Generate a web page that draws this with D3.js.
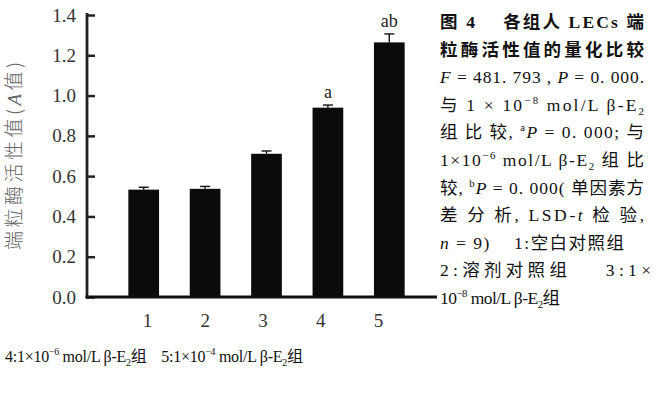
<!DOCTYPE html>
<html>
<head>
<meta charset="utf-8">
<script src="https://cdn.jsdelivr.net/npm/d3@7"></script>
<style>
  html, body { margin: 0; padding: 0; background: #fff; }
  svg { display: block; }
</style>
</head>
<body>
<svg id="chart" width="662" height="393"></svg>
<script>
// Telomerase activity (A value) of LECs in each group
const groups = ["1", "2", "3", "4", "5"];
const meanValues = [0.533, 0.537, 0.711, 0.940, 1.264];
const sdValues = [0.012, 0.012, 0.014, 0.013, 0.042];
const sigLabels = ["", "", "", "a", "ab"];
const yTicks = [0, 0.2, 0.4, 0.6, 0.8, 1.0, 1.2, 1.4];
const yTitle = [["端粒酶活性值(", ""], ["A", "i"], ["值)", ""]];

// Caption lines: each segment is [text, style] where style may be
// "b" bold, "i" italic, "sup" superscript, "sub" subscript
const captionLines = [
  { w: 204, segs: [["图 4", "b"], ["\u00a0\u00a0\u00a0\u00a0各组人 LECs 端", "b"]] },
  { w: 204, segs: [["粒酶活性值的量化比较", "b"]] },
  { w: 204, segs: [["F", "i"], [" = 481. 793 , ", ""], ["P", "i"], [" = 0. 000.", ""]] },
  { w: 204, segs: [["与 1 × 10", ""], ["−8", "sup"], ["  mol/L  β-E", ""], ["2", "sub"]] },
  { w: 204, segs: [["组 比 较, ", ""], ["a", "sup"], ["P", "i"], [" = 0. 000; 与", ""]] },
  { w: 204, segs: [["1×10", ""], ["−6", "sup"], [" mol/L  β-E", ""], ["2", "sub"], [" 组 比", ""]] },
  { w: 204, segs: [["较, ", ""], ["b", "sup"], ["P", "i"], [" = 0. 000( 单因素方", ""]] },
  { w: 204, segs: [["差 分 析, LSD-", ""], ["t", "i"], ["  检 验,", ""]] },
  { w: 184, segs: [["n", "i"], [" = 9)\u00a0\u00a0\u00a0 1:空白对照组", ""]] },
  { w: 211, segs: [["2:溶剂对照组\u00a0\u00a0\u00a0 3:1×", ""]] },
  { w: 120, segs: [["10", ""], ["−8", "sup"], [" mol/L β-E", ""], ["2", "sub"], ["组", ""]] }
];
const footLine = [["4:1×10", ""], ["−6", "sup"], [" mol/L β-E", ""], ["2", "sub"], ["组\u00a0\u00a0\u00a0 5:1×10", ""],
                  ["−4", "sup"], [" mol/L β-E", ""], ["2", "sub"], ["组", ""]];

const FONT = "'Liberation Serif', 'Times New Roman', 'Noto Sans CJK SC', serif";
const svg = d3.select("#chart");

// Scales
const x = d3.scaleBand().domain(groups).range([113, 420]).paddingInner(0.5).paddingOuter(0.25);
const xLabel = d3.scalePoint().domain(groups).range([147, 378]);
const y = d3.scaleLinear().domain([0, 1.4]).range([297, 15]);

// Bars
svg.append("g").selectAll("rect").data(groups).join("rect")
  .attr("x", d => x(d))
  .attr("width", x.bandwidth())
  .attr("y", (d, i) => y(meanValues[i]))
  .attr("height", (d, i) => y(0) - y(meanValues[i]))
  .attr("fill", "#0b0b0b");

// Error bars (upper half)
const eb = svg.append("g").attr("stroke", "#111").attr("stroke-width", 1.4);
groups.forEach((g, i) => {
  const cx = x(g) + x.bandwidth() / 2;
  eb.append("line").attr("x1", cx).attr("x2", cx)
    .attr("y1", y(meanValues[i])).attr("y2", y(meanValues[i] + sdValues[i]));
  eb.append("line").attr("x1", cx - 5).attr("x2", cx + 5)
    .attr("y1", y(meanValues[i] + sdValues[i])).attr("y2", y(meanValues[i] + sdValues[i]));
});

// Significance letters
svg.append("g").selectAll("text").data(groups).join("text")
  .attr("x", d => x(d) + x.bandwidth() / 2)
  .attr("y", (d, i) => y(meanValues[i] + sdValues[i]) - 7)
  .attr("text-anchor", "middle")
  .attr("font-family", FONT).attr("font-size", 18).attr("fill", "#222")
  .text((d, i) => sigLabels[i]);

// Y axis: inward ticks
const yAxis = d3.axisLeft(y).tickValues(yTicks).tickSize(-8).tickPadding(11)
  .tickFormat(d3.format(".1f"));
const yg = svg.append("g").attr("transform", "translate(87,0)").call(yAxis);
yg.select(".domain").remove();
yg.selectAll(".tick line").attr("stroke", "#222").attr("stroke-width", 2.5);
yg.selectAll(".tick text").attr("font-family", FONT).attr("font-size", 19).attr("fill", "#333");
svg.append("line").attr("x1", 87).attr("x2", 87).attr("y1", 13).attr("y2", y(0) + 1.5)
  .attr("stroke", "#222").attr("stroke-width", 2.8);
svg.append("line").attr("x1", 85.6).attr("x2", 437).attr("y1", y(0)).attr("y2", y(0))
  .attr("stroke", "#111").attr("stroke-width", 3);

// X axis labels
const xAxis = d3.axisBottom(xLabel).tickSize(0).tickPadding(17);
const xg = svg.append("g").attr("transform", `translate(0,${y(0)})`).call(xAxis);
xg.select(".domain").remove();
xg.selectAll(".tick text").attr("font-family", FONT).attr("font-size", 19).attr("fill", "#333");

// Y title
const yt = svg.append("text")
  .attr("transform", "translate(21,156) rotate(-90)")
  .attr("text-anchor", "middle")
  .attr("font-family", "'Noto Sans CJK SC', sans-serif").attr("font-size", 19)
  .attr("font-weight", 300).attr("fill", "#666")
  .attr("textLength", 188).attr("lengthAdjust", "spacing");
yTitle.forEach(([t, st]) => {
  const s = yt.append("tspan").text(t);
  if (st === "i") s.attr("font-style", "italic").attr("font-family", FONT);
});

// Caption text helper
function drawLine(parent, segs, x0, yb, width, size) {
  const t = parent.append("text").attr("x", x0).attr("y", yb)
    .attr("font-family", FONT).attr("font-size", size).attr("fill", "#111");
  let shift = 0;
  segs.forEach(([txt, st]) => {
    const s = t.append("tspan").text(txt);
    if (st === "b") s.attr("font-weight", "bold").attr("font-family", "'Liberation Serif', 'Noto Sans CJK SC', serif");
    if (st === "i") s.attr("font-style", "italic");
    if (st === "sup" || st === "sub") {
      const d = st === "sup" ? -7 : 4;
      s.attr("font-size", size * 0.62).attr("dy", d - shift);
      shift = d;
    } else if (shift !== 0) {
      s.attr("dy", -shift);
      shift = 0;
    }
  });
  if (width) t.attr("textLength", width).attr("lengthAdjust", "spacing");
  return t;
}

const cap = svg.append("g");
captionLines.forEach((ln, i) => {
  drawLine(cap, ln.segs, 440, 28 + i * 27.6, ln.w, 17.5);
});
drawLine(svg, footLine, 5, 362, 298, 16);
</script>
</body>
</html>
